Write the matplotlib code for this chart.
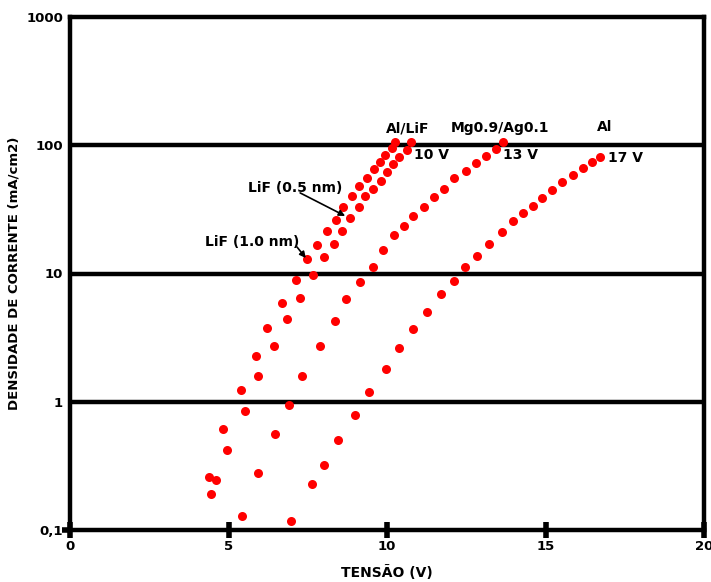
"""
plot.py
J-V curves (log scale) for OLED cathodes: LiF/Al, Mg:Ag and Al.
"""

import matplotlib
matplotlib.use('Agg')
import matplotlib.pyplot as plt

# ── Matplotlib Configuration ──────────────────────────────────────────────────

matplotlib.rcParams.update({
    "font.family": "DejaVu Sans",
    "font.weight": "bold",
})

# ── Data ──────────────────────────────────────────────────────────────────────

# LiF (1.0 nm) / Al
x_lif10 = [4.38, 4.83, 5.40, 5.87, 6.21, 6.69, 7.13, 7.47, 7.79, 8.11, 8.38,
           8.61, 8.90, 9.12, 9.37, 9.59, 9.78, 9.94, 10.16, 10.25]
y_lif10 = [0.26, 0.61, 1.24, 2.27, 3.76, 5.9, 8.9, 13.0, 16.7, 21.5, 26,
           33, 40, 48, 56, 65, 74, 84, 95, 106]

# LiF (0.5 nm) / Al
x_lif05 = [4.45, 4.60, 4.95, 5.52, 5.93, 6.44, 6.84, 7.26, 7.67, 8.01, 8.33,
           8.58, 8.83, 9.12, 9.31, 9.56, 9.81, 10.00, 10.19, 10.38, 10.63, 10.76]
y_lif05 = [0.19, 0.245, 0.42, 0.85, 1.59, 2.72, 4.4, 6.4, 9.7, 13.5, 17,
           21.5, 27, 33, 40, 46, 53, 62, 71, 81, 92, 106]

# Mg0.9/Ag0.1
x_mg = [5.43, 5.93, 6.47, 6.91, 7.32, 7.89, 8.36, 8.71, 9.15, 9.56, 9.87,
        10.22, 10.54, 10.82, 11.17, 11.48, 11.80, 12.12, 12.49, 12.81, 13.12,
        13.44, 13.66]
y_mg = [0.129, 0.28, 0.56, 0.94, 1.59, 2.72, 4.3, 6.3, 8.6, 11.2, 15.3,
        20, 23.5, 28, 33, 39.5, 45.6, 55.5, 63, 72.7, 82.5,
        93.5, 106]

# Al
x_al = [6.97, 7.63, 8.01, 8.45, 8.99, 9.43, 9.97, 10.38, 10.82, 11.26, 11.70,
        12.11, 12.46, 12.84, 13.22, 13.63, 13.97, 14.29, 14.61, 14.89, 15.20,
        15.52, 15.87, 16.18, 16.47, 16.72]
y_al = [0.118, 0.23, 0.32, 0.50, 0.79, 1.19, 1.80, 2.63, 3.69, 5.0, 6.9,
        8.7, 11.2, 13.7, 17, 21, 25.7, 29.6, 33.6, 38.8, 44.8,
        51.7, 58.6, 66.5, 74, 81]

x_ticks = [0, 5, 10, 15, 20]
y_ticks = [0.1, 1, 10, 100, 1000]
y_tick_labels = ['0,1', '1', '10', '100', '1000']
grid_levels = [1, 10, 100]

DOT_COLOUR = '#ff0000'

# ── Figure ────────────────────────────────────────────────────────────────────

fig = plt.figure(figsize=(7.11, 5.82), dpi=100)
ax = fig.add_axes([70 / 711, 1 - 530 / 582, 634 / 711, 513 / 582])

ax.set_yscale('log')
ax.set_xlim(0, 20)
ax.set_ylim(0.1, 1000)

for level in grid_levels:
    ax.axhline(level, color='black', lw=3.2, zorder=1)

for xs, ys in [(x_lif10, y_lif10), (x_lif05, y_lif05), (x_mg, y_mg), (x_al, y_al)]:
    ax.plot(xs, ys, 'o', color=DOT_COLOUR, markersize=6.5, markeredgewidth=0, zorder=3)

# ── Axes styling ──────────────────────────────────────────────────────────────

for spine in ax.spines.values():
    spine.set_linewidth(3.2)
    spine.set_zorder(4)

ax.set_xticks(x_ticks)
ax.set_xticklabels([str(t) for t in x_ticks], fontsize=9.5, fontweight='bold')
ax.set_yticks(y_ticks)
ax.set_yticklabels(y_tick_labels, fontsize=9.5, fontweight='bold')
ax.yaxis.set_minor_locator(matplotlib.ticker.NullLocator())

ax.tick_params(axis='x', direction='inout', length=11, width=4, pad=2)
ax.tick_params(axis='y', direction='out', length=0, width=4, pad=5)
ax.yaxis.get_major_ticks()[0].tick1line.set_markersize(6)

ax.set_xlabel('TENSÃO (V)', fontsize=10, fontweight='bold')
ax.set_ylabel('DENSIDADE DE CORRENTE (mA/cm2)', fontsize=9.5, fontweight='bold')
ax.xaxis.set_label_coords(0.5, -0.068)
ax.yaxis.set_label_coords(-0.078, 0.5)

# ── Labels and arrows ─────────────────────────────────────────────────────────

txt = dict(fontsize=10, fontweight='bold', va='center')
ax.text(10.66, 136, 'Al/LiF', ha='center', **txt)
ax.text(10.84, 84, '10 V', ha='left', **txt)
ax.text(13.56, 136, 'Mg0.9/Ag0.1', ha='center', **txt)
ax.text(13.65, 84, '13 V', ha='left', **txt)
ax.text(16.88, 138, 'Al', ha='center', **txt)
ax.text(16.96, 80, '17 V', ha='left', **txt)

arrow = dict(arrowstyle='-|>', lw=1.2, color='black', mutation_scale=9,
             shrinkA=0, shrinkB=0)
ax.text(7.1, 46.4, 'LiF (0.5 nm)', ha='center', **txt)
ax.annotate('', xy=(8.68, 28.1), xytext=(7.26, 42.5), arrowprops=arrow)
ax.text(5.74, 17.6, 'LiF (1.0 nm)', ha='center', **txt)
ax.annotate('', xy=(7.44, 13.2), xytext=(7.16, 16.1), arrowprops=arrow)

fig.savefig('out.png', dpi=100, facecolor='white')
